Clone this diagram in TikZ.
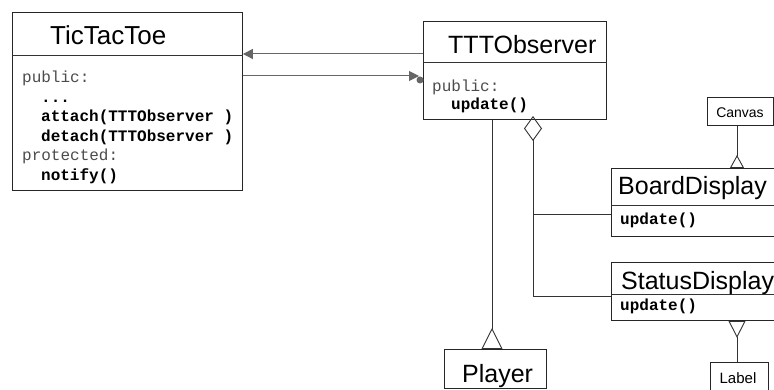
\documentclass[tikz,border=0pt]{standalone}
\usepackage{fontspec}
\setmainfont{Liberation Sans}
\newfontfamily\codefont{Liberation Mono}
\usepackage{xcolor}
\usepackage{tikz}
\usetikzlibrary{arrows.meta,positioning,calc}

\newcommand{\ind}{\hspace*{19pt}}
\newcommand{\kw}[1]{\textcolor{black!70}{#1}}

\begin{document}
\begin{tikzpicture}[
    x=1pt, y=-1pt,
    classbox/.style={rectangle, draw=black!85, line width=0.9pt, inner sep=0pt, anchor=north west},
    titletext/.style={font=\fontsize{25}{25}\selectfont, anchor=base west, inner sep=0pt},
    smalltext/.style={font=\fontsize{14}{14}\selectfont, anchor=base, inner sep=0pt},
    codetext/.style={font=\codefont\fontsize{16}{19.5}\selectfont, align=left, anchor=base west, inner sep=0pt},
    link/.style={draw=black!80, line width=0.9pt},
    navlink/.style={draw=black!60, line width=1pt, -{Triangle[length=10pt,width=10pt,fill=black!60]}}
]
\useasboundingbox (0,0) rectangle (774,390);
\fill[white] (0,0) rectangle (774,390);
\clip (0,0) rectangle (774,390);

% classes
\node[classbox, minimum width=230pt, minimum height=178pt] (game) at (12,12) {};
\node[classbox, minimum width=183pt, minimum height=98pt] (obs) at (423,21) {};
\node[classbox, minimum width=180pt, minimum height=68pt] (board) at (611,168) {};
\node[classbox, minimum width=180pt, minimum height=58pt] (status) at (611,262) {};
\node[classbox, minimum width=66pt, minimum height=28pt] (canvas) at (707,97) {};
\node[classbox, minimum width=58pt, minimum height=40pt] (label) at (710,362) {};
\node[classbox, minimum width=102pt, minimum height=39pt] (player) at (444,349) {};

% compartments
\draw[link] (game.west |- 0,55) -- (game.east |- 0,55);
\draw[link] (obs.west |- 0,62) -- (obs.east |- 0,62);
\draw[link] (board.west |- 0,205) -- (board.east |- 0,205);
\draw[link] (status.west |- 0,294) -- (status.east |- 0,294);

% names
\node[titletext, font=\fontsize{26}{26}\selectfont] (gamename) at (50,45) {TicTacToe};
\node[titletext] (obsname) at (448,54) {TTTObserver};
\node[titletext] (boardname) at (618,195) {BoardDisplay};
\node[titletext] (statusname) at (621,289) {StatusDisplay};
\node[titletext] (playername) at (462,382) {Player};
\node[smalltext] (canvasname) at (740,118) {Canvas};
\node[smalltext, font=\fontsize{15}{15}\selectfont] (labelname) at (738,383) {Label};

% operations (base = last line)
\node[codetext] (gameops) at (22,180.5) {\kw{public:}\\
  \ind\textbf{...}\\
  \ind\textbf{attach(TTTObserver )}\\
  \ind\textbf{detach(TTTObserver )}\\
  \kw{protected:}\\
  \ind\textbf{notify()}};
\node[codetext, font=\codefont\fontsize{16}{18}\selectfont] (obsops) at (432,110) {\kw{public:}\\
  \ind\textbf{update()}};
\node[codetext] (boardops) at (620,225) {\textbf{update()}};
\node[codetext] (statusops) at (620,310) {\textbf{update()}};

% connectors
\coordinate (aggtop) at (533,116);
\coordinate (forkb) at (533,214);
\coordinate (forks) at (533,296);

\draw[navlink] (obs.west |- 0,54) -- (game.east |- 0,54);
\draw[navlink, shorten >=4pt] (game.east |- 0,76) -- (obs.west |- 0,76);
\fill[black!60] ($(obs.west |- 0,80)+(-3,0)$) circle (3.5pt);

\draw[link, {Diamond[open,length=25pt,width=18pt]}-] (aggtop) -- (forks) -- (status.west |- forks);
\draw[link] (forkb) -- (board.west |- forkb);
\draw[link, -{Triangle[open,reversed,length=21pt,width=21pt]}] (obs.south -| 492,0) -- (player.north -| 492,0);
\draw[link, -{Triangle[open,reversed,length=13pt,width=14pt]}] (canvas.south -| 737,0) -- (board.north -| 737,0);
\draw[link, {Triangle[open,reversed,length=17pt,width=17pt]}-] (status.south -| 737,0) -- (label.north -| 737,0);

\end{tikzpicture}
\end{document}
